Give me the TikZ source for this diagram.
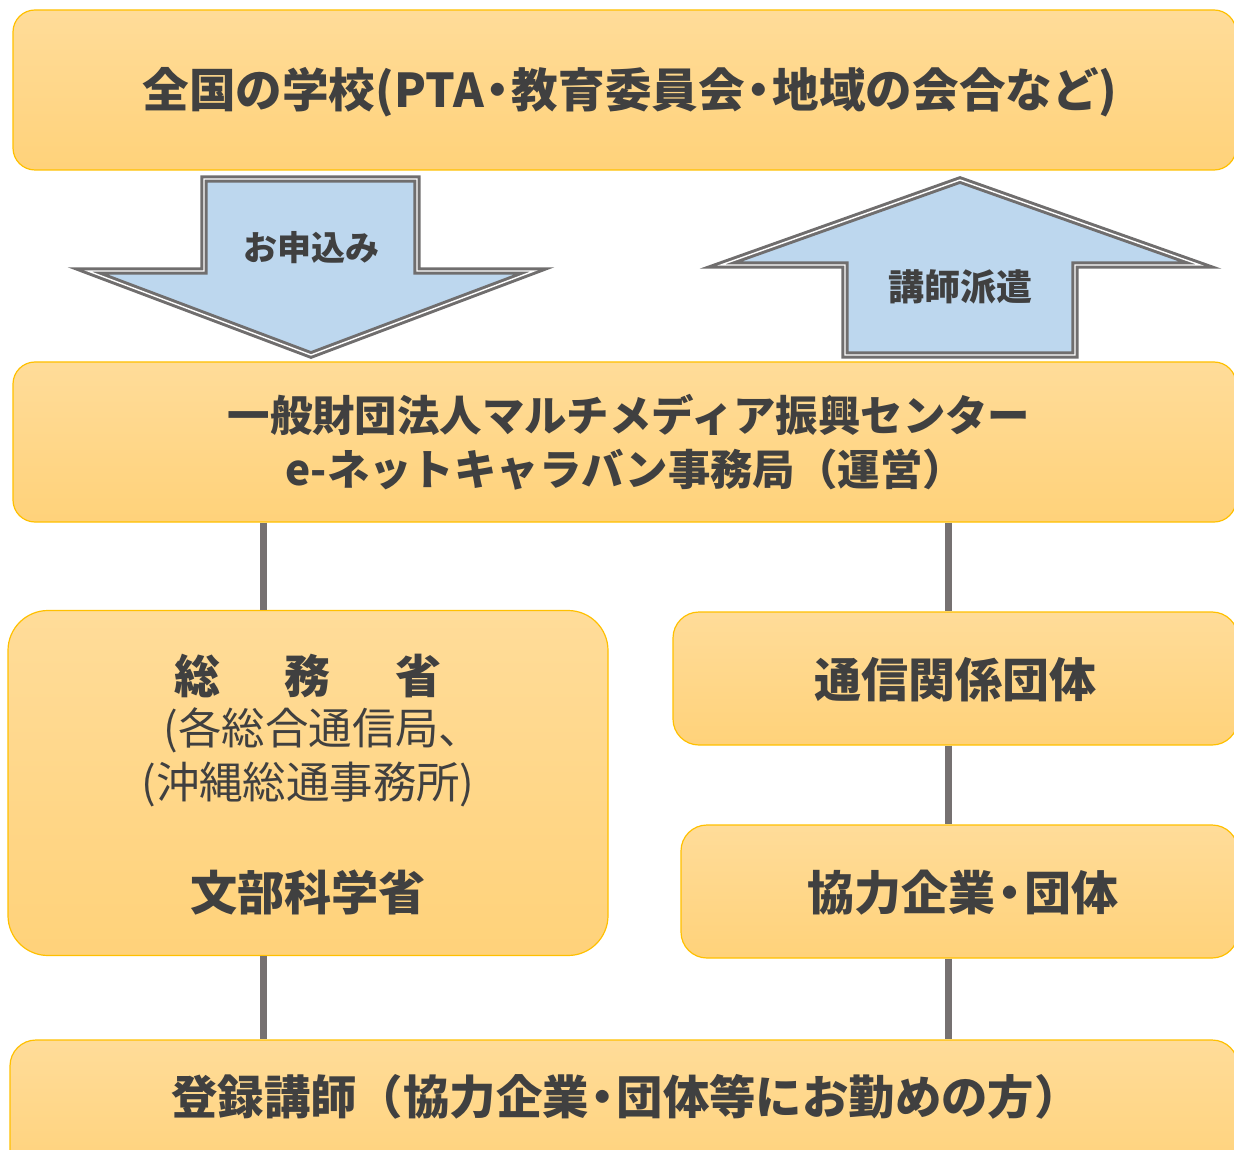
\documentclass[tikz,border=0pt]{standalone}
\usepackage{fontspec}
\setmainfont{Noto Sans CJK JP}
\definecolor{boxline}{RGB}{255,192,0}
\definecolor{boxtop}{RGB}{255,220,153}
\definecolor{boxbot}{RGB}{255,210,122}
\definecolor{arrowfill}{RGB}{189,215,238}
\definecolor{arrowline}{RGB}{112,110,110}
\definecolor{connline}{RGB}{118,113,113}
\definecolor{txt}{RGB}{64,64,64}
\newcommand\nakaguro{\kern-.2em・\kern-.2em}
\tikzset{
	box/.style={draw=boxline, line width=0.6pt, rounded corners=11pt, top color=boxtop, bottom color=boxbot, inner sep=0pt},
	bigarrow/.style={fill=arrowfill, draw=arrowline, line width=1.5pt, double=white, double distance=0.7pt, line join=miter},
	conn/.style={draw=connline, line width=3.5pt},
	label/.style={text=txt, inner sep=0pt},
}
\begin{document}
\begin{tikzpicture}[x=0.5pt,y=-0.5pt]
		\clip (0,0) rectangle (1234,1149);
		%boxes
		\node[box, minimum width=611.5pt, minimum height=80pt] (top) at (624.5,90) {};
		\node[box, minimum width=611.5pt, minimum height=80pt] (mid) at (624.5,442) {};
		\node[box, rounded corners=20pt, minimum width=300pt, minimum height=172.5pt] (sou) at (308,783) {};
		\node[box, rounded corners=13pt, minimum width=282.5pt, minimum height=66.5pt] (tsu) at (955.5,678.5) {};
		\node[box, rounded corners=13pt, minimum width=278.5pt, minimum height=66.5pt] (kyo) at (959.5,891.5) {};
		\node[box, rounded corners=13pt, minimum width=614pt, minimum height=70pt] (reg) at (624,1110) {};

		%connectors
		\coordinate (lx) at (263,0);
		\coordinate (rx) at (948,0);
		\draw[conn] (mid.south -| lx) -- (sou.north -| lx);
		\draw[conn] (sou.south -| lx) -- (reg.north -| lx);
		\draw[conn] (mid.south -| rx) -- (tsu.north -| rx);
		\draw[conn] (tsu.south -| rx) -- (kyo.north -| rx);
		\draw[conn] (kyo.south -| rx) -- (reg.north -| rx);

		%arrows
		\draw[bigarrow] (204,179) -- (417,179) -- (417,271) -- (534,271) -- (311,355) -- (88,271) -- (204,271) -- cycle;
		\node[label, font=\bfseries\fontsize{17}{20}\selectfont] (apply) at (311,248) {お申込み};
		\draw[bigarrow] (845,355) -- (1075,355) -- (1075,265) -- (1200,265) -- (960,180) -- (721,265) -- (845,265) -- cycle;
		\node[label, font=\bfseries\fontsize{18}{21}\selectfont] (send) at (960,287) {講師派遣};

		%texts
		\node[label, font=\bfseries\fontsize{23.3}{27}\selectfont] (toptext) at (630,92) {全国の学校(PTA\nakaguro 教育委員会\nakaguro 地域の会合など)};
		\node[label, font=\bfseries\fontsize{21.2}{25}\selectfont] (midtext1) at (629,415) {一般財団法人マルチメディア振興センター};
		\node[label, font=\bfseries\fontsize{21.2}{25}\selectfont] (midtext2) at (625,470) {e-ネットキャラバン事務局（運営）};
		\node[label, font=\bfseries\fontsize{23}{27}\selectfont] (soutext1) at (308,676) {総\hspace{1.4em}務\hspace{1.4em}省};
		\node[label, font=\fontsize{21.7}{25}\selectfont] (soutext2) at (323,730) {(各総合通信局、};
		\node[label, font=\fontsize{21.7}{25}\selectfont] (soutext3) at (308,784) {(沖縄総通事務所)};
		\node[label, font=\bfseries\fontsize{23.6}{27}\selectfont] (montext) at (308,893) {文部科学省};
		\node[label, font=\bfseries\fontsize{23.5}{27}\selectfont] (tsutext) at (955,680) {通信関係団体};
		\node[label, font=\bfseries\fontsize{23.5}{27}\selectfont] (kyotext) at (963,893) {協力企業\nakaguro 団体};
		\node[label, font=\bfseries\fontsize{23.2}{27}\selectfont] (regtext) at (626,1097) {登録講師（協力企業\nakaguro 団体等にお勤めの方）};
\end{tikzpicture}
\end{document}
